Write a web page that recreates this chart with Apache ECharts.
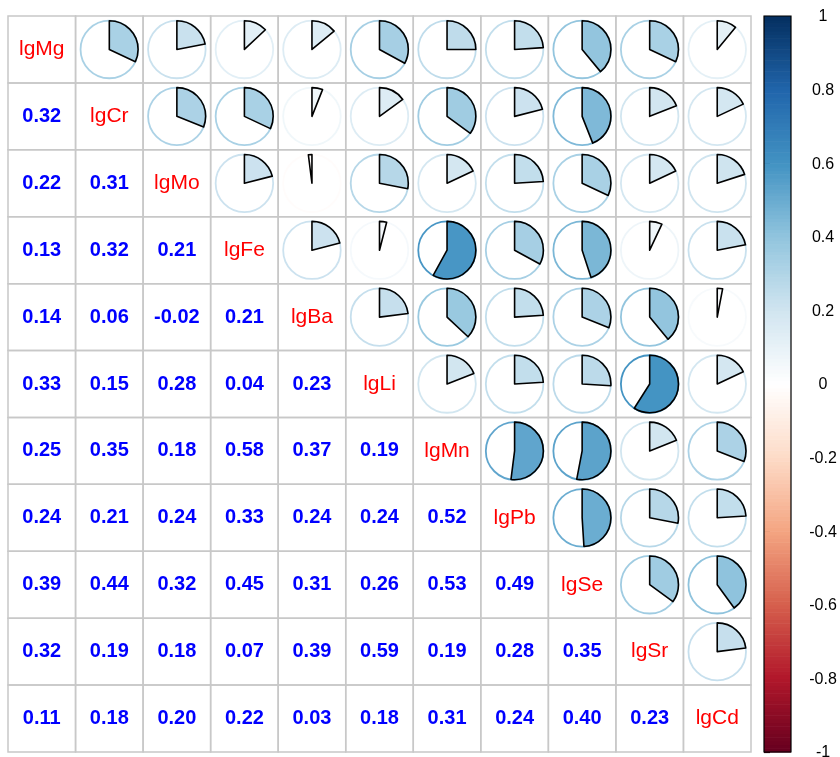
<!DOCTYPE html>
<html>
<head>
<meta charset="utf-8">
<script src="https://cdn.jsdelivr.net/npm/echarts@6/dist/echarts.min.js"></script>
<style>
  html, body { margin: 0; padding: 0; background: #ffffff; }
  #chart { width: 840px; height: 757px; }
</style>
</head>
<body>
<div id="chart"></div>
<script>
// Variable names (diagonal order)
const variables = ['lgMg', 'lgCr', 'lgMo', 'lgFe', 'lgBa', 'lgLi', 'lgMn', 'lgPb', 'lgSe', 'lgSr', 'lgCd'];

// Lower-triangle correlation rows (row variable vs. the earlier variables)
const rowCr = [0.32];
const rowMo = [0.22, 0.31];
const rowFe = [0.13, 0.32, 0.21];
const rowBa = [0.14, 0.06, -0.02, 0.21];
const rowLi = [0.33, 0.15, 0.28, 0.04, 0.23];
const rowMn = [0.25, 0.35, 0.18, 0.58, 0.37, 0.19];
const rowPb = [0.24, 0.21, 0.24, 0.33, 0.24, 0.24, 0.52];
const rowSe = [0.39, 0.44, 0.32, 0.45, 0.31, 0.26, 0.53, 0.49];
const rowSr = [0.32, 0.19, 0.18, 0.07, 0.39, 0.59, 0.19, 0.28, 0.35];
const rowCd = [0.11, 0.18, 0.20, 0.22, 0.03, 0.18, 0.31, 0.24, 0.40, 0.23];

// Colour-legend tick values and their labels
const legendTicks = [-1, -0.8, -0.6, -0.4, -0.2, 0, 0.2, 0.4, 0.6, 0.8, 1];
const legendTickLabels = ['-1', '-0.8', '-0.6', '-0.4', '-0.2', '0', '0.2', '0.4', '0.6', '0.8', '1'];

// RdBu diverging palette stops, from -1 to 1
const paletteStops = ['#67001F', '#B2182B', '#D6604D', '#F4A582', '#FDDBC7', '#FFFFFF',
                      '#D1E5F0', '#92C5DE', '#4393C3', '#2166AC', '#053061'];

const lowerRows = [[], rowCr, rowMo, rowFe, rowBa, rowLi, rowMn, rowPb, rowSe, rowSr, rowCd];
const n = variables.length;

// Symmetric correlation matrix
const corr = [];
for (let i = 0; i < n; i++) {
  corr.push(new Array(n).fill(1));
}
for (let i = 1; i < n; i++) {
  for (let j = 0; j < i; j++) {
    corr[i][j] = lowerRows[i][j];
    corr[j][i] = lowerRows[i][j];
  }
}

function hexToRgb(h) {
  return [parseInt(h.slice(1, 3), 16), parseInt(h.slice(3, 5), 16), parseInt(h.slice(5, 7), 16)];
}
const stopRgb = paletteStops.map(hexToRgb);

// 200-step ramp, like a colorRampPalette of the stops
const NBINS = 200;
const ramp = [];
for (let k = 0; k < NBINS; k++) {
  const t = k / (NBINS - 1) * (stopRgb.length - 1);
  const a = Math.floor(t), b = Math.min(a + 1, stopRgb.length - 1), f = t - a;
  const c = stopRgb[a].map((v, idx) => Math.round(v + (stopRgb[b][idx] - v) * f));
  ramp.push('rgb(' + c.join(',') + ')');
}
function colorOf(v) {
  let k = Math.floor((v + 1) / 2 * NBINS);
  if (k >= NBINS) k = NBINS - 1;
  if (k < 0) k = 0;
  return ramp[k];
}

// Matrix cells: [col, row, value]
const cells = [];
for (let i = 0; i < n; i++) {
  for (let j = 0; j < n; j++) {
    cells.push([j, i, corr[i][j]]);
  }
}

// Legend bins: [lower bound, upper bound]
const legendBins = [];
for (let k = 0; k < NBINS; k++) {
  legendBins.push([-1 + 2 * k / NBINS, -1 + 2 * (k + 1) / NBINS]);
}

function renderCell(params, api) {
  const col = api.value(0), row = api.value(1), v = api.value(2);
  const c = api.coord([col, row]);
  const s = api.size([1, 1]);
  const w = s[0], h = s[1];
  const children = [{
    type: 'rect',
    shape: { x: c[0] - w / 2, y: c[1] - h / 2, width: w, height: h },
    style: { fill: 'none', stroke: '#C8C8C8', lineWidth: 1.5 }
  }];
  if (row === col) {
    children.push({
      type: 'text',
      style: {
        x: c[0], y: c[1], text: variables[row],
        fill: '#FF0000', font: '21px "Liberation Sans", Arial, sans-serif',
        align: 'center', verticalAlign: 'middle'
      }
    });
  } else if (row > col) {
    children.push({
      type: 'text',
      style: {
        x: c[0], y: c[1], text: v.toFixed(2),
        fill: '#0000FF', font: 'bold 20px "Liberation Sans", Arial, sans-serif',
        align: 'center', verticalAlign: 'middle'
      }
    });
  } else {
    const r = Math.min(w, h) * 0.43;
    const col2 = colorOf(v);
    children.push({
      type: 'circle',
      shape: { cx: c[0], cy: c[1], r: r },
      style: { fill: '#FFFFFF', stroke: col2, lineWidth: 1.8 }
    });
    const top = -Math.PI / 2;
    const span = 2 * Math.PI * Math.abs(v);
    const start = v >= 0 ? top : top - span;
    const end = v >= 0 ? top + span : top;
    children.push({
      type: 'sector',
      shape: { cx: c[0], cy: c[1], r: r, r0: 0, startAngle: start, endAngle: end, clockwise: true },
      style: { fill: col2, stroke: '#000000', lineWidth: 1.6, lineJoin: 'round' }
    });
  }
  return { type: 'group', children: children };
}

function renderBin(params, api) {
  const p0 = api.coord([0, api.value(0)]);
  const p1 = api.coord([1, api.value(1)]);
  const mid = (api.value(0) + api.value(1)) / 2;
  return {
    type: 'rect',
    shape: { x: p0[0], y: p1[1], width: p1[0] - p0[0], height: p0[1] - p1[1] + 0.6 },
    style: { fill: colorOf(mid), stroke: null }
  };
}

const chart = echarts.init(document.getElementById('chart'), null, { renderer: 'canvas' });

chart.setOption({
  backgroundColor: '#FFFFFF',
  animation: false,
  grid: [
    { left: 8, top: 16, width: 743, height: 736 },
    { left: 764, top: 16, width: 27, height: 736 }
  ],
  xAxis: [
    { gridIndex: 0, type: 'category', data: variables, show: false },
    { gridIndex: 1, type: 'value', min: 0, max: 1, show: false }
  ],
  yAxis: [
    { gridIndex: 0, type: 'category', data: variables, inverse: true, show: false },
    {
      gridIndex: 1, type: 'value', min: legendTicks[0], max: legendTicks[legendTicks.length - 1],
      interval: 0.2, position: 'right',
      axisLine: { show: false },
      splitLine: { show: false },
      axisTick: { show: true, length: 6, lineStyle: { color: '#000000', width: 1.2 } },
      axisLabel: { show: false }
    }
  ],
  series: [
    {
      type: 'custom', xAxisIndex: 0, yAxisIndex: 0,
      data: cells, renderItem: renderCell, silent: true
    },
    {
      type: 'custom', xAxisIndex: 1, yAxisIndex: 1,
      data: legendBins, renderItem: renderBin, silent: true
    }
  ],
  graphic: []
});

// Frame and tick labels of the colour legend, placed from the legend axis scale
function drawLegendDecor() {
  const tl = chart.convertToPixel({ xAxisIndex: 1, yAxisIndex: 1 }, [0, 1]);
  const br = chart.convertToPixel({ xAxisIndex: 1, yAxisIndex: 1 }, [1, -1]);
  const items = [{
    type: 'rect', z: 100,
    shape: { x: tl[0], y: tl[1], width: br[0] - tl[0], height: br[1] - tl[1] },
    style: { fill: 'none', stroke: '#000000', lineWidth: 1.2 }
  }];
  legendTicks.forEach(function (t, i) {
    const p = chart.convertToPixel({ xAxisIndex: 1, yAxisIndex: 1 }, [1, t]);
    items.push({
      type: 'text', z: 100,
      style: {
        x: p[0] + 32, y: p[1] + 1, text: legendTickLabels[i],
        fill: '#000000', font: '16px "Liberation Sans", Arial, sans-serif',
        align: 'center', verticalAlign: 'middle'
      }
    });
  });
  chart.setOption({ graphic: items });
}
drawLegendDecor();
</script>
</body>
</html>
